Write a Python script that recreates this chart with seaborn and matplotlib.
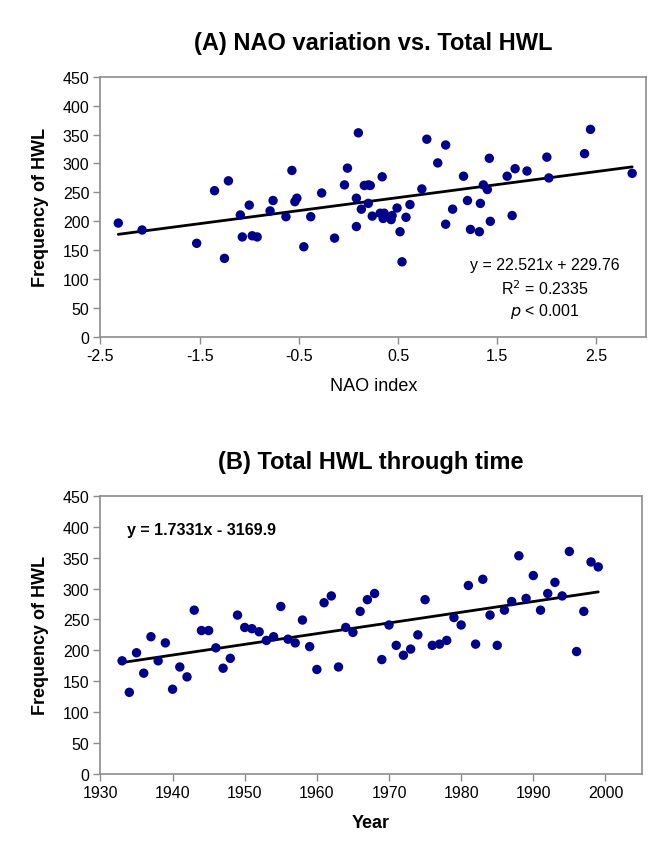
"""NAO index vs total HWL, and total HWL through time."""
import numpy as np
import pandas as pd
import matplotlib
matplotlib.use("Agg")
import matplotlib.pyplot as plt
import seaborn as sns

sns.set_theme(style="white")
plt.rcParams["font.family"] = ["Liberation Sans", "DejaVu Sans"]
plt.rcParams.update({"text.color": "black", "axes.labelcolor": "black",
                     "xtick.color": "black", "ytick.color": "black"})

# ─── data ───

nao_index = [-2.32, -2.08, -1.53, -1.35, -1.25, -1.21, -1.09, -1.07, -1.00, -0.97,
             -0.92, -0.79, -0.76, -0.63, -0.57, -0.54, -0.52, -0.45, -0.38, -0.27,
             -0.14, -0.04, -0.01, 0.08, 0.08, 0.10, 0.13, 0.16, 0.20, 0.22,
             0.20, 0.24, 0.34, 0.32, 0.36, 0.35, 0.44, 0.43, 0.49, 0.52,
             0.54, 0.58, 0.62, 0.74, 0.79, 0.90, 0.98, 0.98, 1.05, 1.16,
             1.20, 1.23, 1.32, 1.33, 1.36, 1.40, 1.42, 1.43, 1.60, 1.65,
             1.68, 1.80, 2.00, 2.02, 2.38, 2.44, 2.86]
nao_hwl = [197, 185, 162, 253, 136, 270, 211, 173, 228, 175,
           173, 218, 236, 208, 288, 234, 240, 156, 208, 249,
           171, 263, 292, 240, 191, 353, 221, 262, 263, 262,
           231, 209, 277, 214, 214, 205, 210, 203, 223, 182,
           130, 207, 229, 256, 342, 301, 332, 195, 221, 278,
           236, 186, 182, 231, 263, 255, 309, 200, 278, 210,
           291, 287, 311, 275, 317, 359, 283]

years = list(range(1933, 2000))
year_hwl = [183, 132, 196, 163, 222, 183, 212, 137, 173, 157,
            265, 232, 232, 204, 171, 187, 257, 237, 235, 230,
            216, 222, 271, 218, 212, 249, 206, 169, 277, 288,
            173, 237, 229, 263, 282, 292, 185, 241, 208, 192,
            202, 225, 282, 208, 210, 216, 253, 241, 305, 210,
            315, 257, 208, 265, 279, 353, 284, 321, 265, 292,
            310, 288, 360, 198, 263, 343, 335]

# trend lines as printed on the chart
nao_slope, nao_icpt = 22.521, 229.76
year_slope, year_icpt = 1.7331, -3169.9

df_a = pd.DataFrame({"nao": nao_index, "hwl": nao_hwl})
df_b = pd.DataFrame({"year": years, "hwl": year_hwl})

DOT = "#00008b"
FRAME = "#8c8c8c"

fig = plt.figure(figsize=(6.48, 8.45), dpi=100)
ax_a = fig.add_axes([0.155, 0.600, 0.842, 0.308])
ax_b = fig.add_axes([0.155, 0.083, 0.835, 0.329])


def style_axes(ax):
    for sp in ax.spines.values():
        sp.set_color(FRAME)
        sp.set_linewidth(1.2)
    ax.tick_params(direction="out", length=5, width=1, color=FRAME,
                   labelsize=11.5, pad=3, bottom=True, left=True)
    ax.set_ylim(0, 450)
    ax.set_yticks(range(0, 451, 50))


# ─── (A) NAO vs HWL ───
sns.scatterplot(data=df_a, x="nao", y="hwl", ax=ax_a, color=DOT, s=46,
                edgecolor="none", zorder=3)
xs = np.array([df_a["nao"].min(), df_a["nao"].max()])
sns.lineplot(x=xs, y=nao_slope * xs + nao_icpt, ax=ax_a, color="black", lw=2)
style_axes(ax_a)
ax_a.set_xlim(-2.5, 3.0)
ax_a.set_xticks([-2.5, -1.5, -0.5, 0.5, 1.5, 2.5])
ax_a.set_xticklabels(["-2.5", "-1.5", "-0.5", "0.5", "1.5", "2.5"])
ax_a.set_xlabel("NAO index", fontsize=13, labelpad=10)
ax_a.set_ylabel("Frequency of HWL", fontsize=13, fontweight="bold", labelpad=10)
ax_a.set_title("(A) NAO variation vs. Total HWL", fontsize=17, fontweight="bold", pad=20)
ax_a.text(0.815, 0.28, f"y = {nao_slope}x + {nao_icpt}", transform=ax_a.transAxes,
          ha="center", va="center", fontsize=11.5)
ax_a.text(0.815, 0.19, "R$^2$ = 0.2335", transform=ax_a.transAxes,
          ha="center", va="center", fontsize=11.5)
ax_a.text(0.815, 0.10, "$\\it{p}$ < 0.001", transform=ax_a.transAxes,
          ha="center", va="center", fontsize=11.5)

# ─── (B) HWL through time ───
sns.scatterplot(data=df_b, x="year", y="hwl", ax=ax_b, color=DOT, s=46,
                edgecolor="none", zorder=3)
ys = np.array([df_b["year"].min(), df_b["year"].max()])
sns.lineplot(x=ys, y=year_slope * ys + year_icpt, ax=ax_b, color="black", lw=2)
style_axes(ax_b)
ax_b.set_xlim(1930, 2005)
ax_b.set_xticks(range(1930, 2001, 10))
ax_b.set_xlabel("Year", fontsize=13, fontweight="bold", labelpad=10)
ax_b.set_ylabel("Frequency of HWL", fontsize=13, fontweight="bold", labelpad=10)
ax_b.set_title("(B) Total HWL through time", fontsize=17, fontweight="bold", pad=20)
ax_b.text(0.05, 0.88, f"y = {year_slope}x - {abs(year_icpt)}", transform=ax_b.transAxes,
          ha="left", va="center", fontsize=11.5, fontweight="bold")

fig.savefig("out.png", dpi=100)
plt.close()
